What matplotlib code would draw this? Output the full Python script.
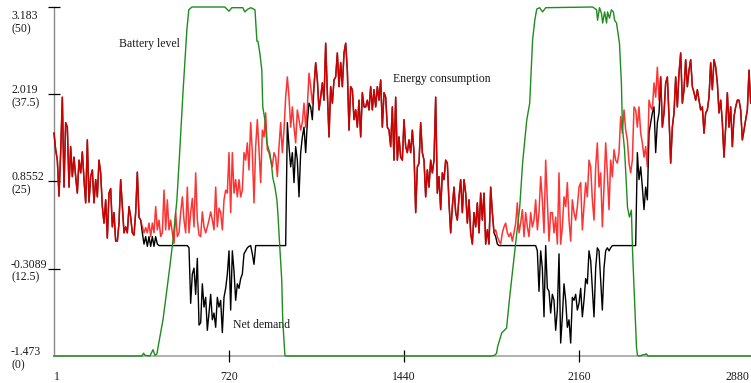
import numpy as np
import matplotlib
matplotlib.use("Agg")
import matplotlib.pyplot as plt
from matplotlib import transforms

# ---------------- data ----------------
STEP_MINUTES = 6.85          # sampling interval of the consumption / net-demand series

consumption = [
    1.50, 1.28, 1.14, 0.66, 1.24, 1.98, 0.78, 1.64, 1.58, 0.78,
    1.32, 0.92, 1.18, 0.92, 0.70, 1.14, 0.97, 1.25, 0.88, 0.57,
    1.41, 0.58, 0.92, 1.01, 0.57, 0.88, 0.65, 1.14, 0.97, 0.52,
    0.30, 0.61, 0.10, 0.70, 0.76, 0.25, 0.44, 0.06, 0.06, 0.30,
    0.88, 0.52, 0.17, 0.25, 0.17, 0.52, 0.38, 0.17, 0.14, 0.44,
    0.98, 0.38, 0.34, 0.25, 0.17, 0.24, 0.17, 0.30, 0.12, 0.30,
    0.17, 0.52, 0.21, 0.34, 0.12, 0.17, 0.74, 0.21, 0.61, 0.21,
    0.34, 0.17, 0.03, 0.44, 0.12, 0.17, 0.44, 0.65, 0.34, 0.17,
    0.78, 0.17, 0.44, 0.63, 0.25, 0.97, 0.34, 0.14,
    # ---
    0.12, 0.45, 0.25, 0.17, 0.25, 0.34, 0.45, 0.34, 0.21, 0.78,
    0.25, 0.50, 0.44, 0.21, 0.61, 0.74, 0.70, 1.24, 0.44, 1.24,
    0.70, 0.88, 0.65, 0.88, 0.65, 0.74, 1.24, 1.14, 1.37, 1.01,
    1.64, 1.24, 0.57, 1.32, 1.68, 1.28, 0.84, 1.54, 1.45, 1.77,
    1.28, 1.24, 1.14, 1.05, 1.24, 1.18, 0.92, 1.32, 1.64, 1.24,
    1.54, 1.98, 2.25, 1.98, 1.58, 1.85, 1.58, 1.37, 1.81, 1.68,
    1.54, 1.64, 1.90, 1.58, 1.85, 2.30, 2.12, 1.90, 2.12, 2.44,
    2.21, 1.81, 1.98, 2.17, 1.94, 2.70, 2.04, 1.45, 2.12, 1.90,
    2.21, 2.25, 2.57, 2.12, 2.44, 2.12, 2.57, 2.70, 2.34, 1.54,
    2.12, 2.08, 1.68, 1.81, 1.58, 1.94, 1.45, 2.04, 1.85, 1.85,
    1.94, 1.81,
    # ---
    2.12, 1.81, 2.08, 1.85, 2.12, 1.94, 2.21, 1.58, 2.04, 1.98,
    1.58, 1.54, 1.32, 1.85, 1.14, 1.98, 1.14, 1.45, 1.18, 1.14,
    1.68, 1.32, 1.24, 1.41, 1.24, 1.54, 1.24, 0.44, 1.05, 1.10,
    1.64, 1.24, 1.14, 0.65, 1.01, 0.78, 1.14, 0.97, 1.14, 1.98,
    0.70, 0.92, 0.48, 0.97, 0.88, 1.14, 1.10, 0.57, 0.17, 0.52,
    0.78, 0.44, 0.34, 0.65, 0.88, 0.44, 0.88, 0.70, 0.30, 0.61,
    0.17, 0.02, 0.44, 0.25, 0.57, 0.17, 0.70, 0.34, 0.70, 0.02,
    0.21, 0.02, 0.78, 0.44, 0.17, 0.21, 0.12, 0.06, 0.02, 0.17,
    0.25, 0.30, 0.17, 0.12, 0.17, 0.06, 0.17, 0.30, 0.57, 0.17,
    0.30, 0.48, 0.12, 0.44, 0.25, 0.12, 0.44, 0.25, 0.34, 0.61,
    0.21, 0.44,
    # ---
    0.92, 0.61, 0.17, 1.14, 0.61, 0.06, 0.44, 0.44, 0.17, 0.38,
    0.02, 0.97, 0.02, 0.25, 0.65, 0.52, 0.84, 0.34, 0.06, 0.61,
    0.44, 0.34, 0.52, 0.78, 0.84, 0.21, 0.52, 0.84, 0.65, 1.14,
    1.05, 0.61, 0.34, 1.05, 1.37, 0.78, 0.97, 0.25, 0.78, 1.37,
    0.97, 0.48, 1.14, 0.92, 1.28, 1.14, 1.10, 1.24, 1.72, 1.50,
    1.81, 1.54, 1.41, 1.10, 0.97, 1.14, 1.85, 1.81, 1.58, 1.85,
    1.50, 1.37, 1.18, 1.32, 1.05, 1.94, 1.85, 1.81, 2.17, 1.98,
    2.38, 1.94, 2.25, 1.58, 1.77, 2.17, 2.25, 1.72, 1.10, 1.58,
    1.77, 2.25, 1.85, 2.30, 2.57, 1.90, 2.08, 2.48, 2.12, 2.34,
    2.48, 2.12, 2.04, 1.94, 2.08, 1.94, 1.81, 1.85, 1.50, 1.77,
    1.81, 1.98, 2.44, 2.08, 2.48, 2.38, 2.17, 1.77, 1.94, 1.64,
    1.18, 1.58, 2.04, 1.58, 1.85, 1.32, 1.72, 1.85, 1.94, 1.94,
    1.81, 1.41, 1.54, 1.68, 1.81, 2.34, 1.90,
]

# net demand differs from consumption only in two windows (sample index, values)
net_window1_start = 53
net_window1 = [
    0.17, 0.02, 0.12, -0.01, 0.12, -0.01, 0.12, -0.01, 0.12, 0.02,
    0.00, 0.00, 0.00, 0.00, 0.00, 0.00, 0.00, 0.00, 0.00, 0.00,
    0.00, 0.00, 0.00, 0.00, 0.00, 0.00, 0.00, 0.00, -0.03,
    -0.77, -0.38, -0.30, -0.65, -0.17, -1.06,
    -1.03, -0.51, -0.82, -0.69, -1.13, -0.90, -0.65, -0.99, -0.90, -1.09,
    -0.69, -0.82, -0.73, -1.16, -0.69, -0.57, -0.38, -0.07, -0.86, -0.07,
    -0.34, -0.73, -0.51, -0.57, -0.44, -0.38, -0.11, -0.07, -0.03, -0.01,
    0.00, -0.11, -0.25,
    0.00, 0.00, 0.00, 0.00, 0.00, 0.00, 0.00, 0.00, 0.00, 0.00,
    0.00, 0.00, 0.00, 0.00, 0.00, 0.00, 0.00, 0.00, 0.00,
    1.64, 1.32, 1.05, 1.24, 0.84, 1.32, 1.14, 0.65, 1.24, 1.45,
    1.58, 1.24, 1.64, 1.90, 1.85, 1.68,
]
net_window2_start = 264
net_window2 = [
    0.17, 0.12, 0.02, 0.00,
    0.00, 0.00, 0.00, 0.00, 0.00, 0.00, 0.00, 0.00, 0.00, 0.00, 0.00,
    0.00, 0.00, 0.00, 0.00, 0.00, 0.00, 0.00, 0.00, 0.00, 0.00, 0.00,
    -0.07, -0.61,
    -0.07, -0.30, -0.95, 0.00, -0.57, -0.61, -0.90, -0.65, -0.73, -1.13,
    -0.86, -0.11, -1.30, -0.95, -0.51, -0.73, -1.09, -0.99, -1.30, -0.69,
    -0.73, -0.65, -0.86, -0.77, -0.57, -0.95, -0.73, -0.44, -0.51, -0.07,
    -0.20, -0.57, -0.95, -0.30, -0.03, -0.07, -0.47, -0.86, -0.30, -0.07,
    -0.03, -0.07, -0.03,
    0.00, 0.00, 0.00, 0.00, 0.00, 0.00, 0.00, 0.00, 0.00, 0.00,
    0.00, 0.00, 0.00, 0.00, 0.00,
    1.24, 0.88, 1.05, 0.78, 0.48, 0.78, 0.61, 1.50, 1.64, 1.77,
    1.85, 1.24, 1.64, 1.77,
]

# battery level (0..50 scale) at irregular minute stamps
battery_minutes = [
    1, 362, 369, 375, 395, 408, 416, 424, 436, 449, 465, 477, 490, 506, 518,
    531, 547, 555, 568, 703, 720, 732, 777, 785, 798, 810, 827, 835, 839,
    847, 855, 859, 868, 876, 888, 896, 900, 909, 917, 921, 929, 937, 941,
    950, 954, 1800, 1812, 1820, 1824, 1841, 1861, 1874, 1886, 1903, 1915,
    1927, 1944, 1956, 1968, 1977, 1985, 1997, 2009, 2022, 2215, 2231, 2235,
    2243, 2251, 2256, 2264, 2272, 2276, 2284, 2292, 2300, 2305, 2313, 2325,
    2333, 2337, 2346, 2354, 2358, 2366, 2374, 2379, 2387, 2395, 2399, 2407,
    2436, 2442, 2864,
]
battery_level = [
    0, 0, 0.4, 0.1, 0, 0.9, 0.1, 0.3, 2.7, 5.2, 9.5, 12.8, 16.6, 22.3, 29.5,
    37.7, 46.7, 49.6, 50, 50, 49.4, 49.9, 49.9, 49.3, 49.7, 49.9, 49.6, 45.1, 45.1,
    43.4, 41.0, 35.7, 33.8, 30.5, 29.1, 27.1, 25.6, 24.2, 22.4, 20.5, 15.6, 10.9, 5.2,
    0.1, 0, 0, 0.1, 0.4, 1.3, 3.3, 4.0, 8.5, 12.3, 17.6, 21.3,
    27.7, 33.8, 36.2, 45.3, 48.1, 49.7, 49.9, 49.3, 49.9, 50, 49.6, 48.1,
    49.9, 49.1, 47.7, 49.3, 47.7, 49.3, 48.4, 49.6, 49.3, 48.1, 47.7, 44.8,
    39.1, 32.8, 29.5, 24.2, 21.3, 19.9, 20.9, 14.8, 8.0, 1.3, 0.1, 0,
    0.3, 0, 0,
]

energy_ticks = [3.183, 2.019, 0.8552, -0.3089, -1.473]
energy_tick_labels = ["3.183", "2.019", "0.8552", "-0.3089", "-1.473"]
battery_tick_labels = ["(50)", "(37.5)", "(25)", "(12.5)", "(0)"]
x_ticks = [1, 720, 1440, 2160, 2880]
x_tick_labels = ["1", "720", "1440", "2160", "2880"]
BATTERY_MAX = 50

# ---------------- derived ----------------
consumption = np.array(consumption)
net_demand = consumption.copy()
net_demand[net_window1_start:net_window1_start + len(net_window1)] = net_window1
net_demand[net_window2_start:net_window2_start + len(net_window2)] = net_window2
minutes = 1 + STEP_MINUTES * np.arange(len(consumption))

y_lo, y_hi = energy_ticks[-1], energy_ticks[0]
battery_energy = y_lo + np.array(battery_level) / BATTERY_MAX * (y_hi - y_lo)

# ---------------- figure ----------------
plt.rcParams['font.family'] = ['Liberation Serif', 'DejaVu Serif']
W, H = 751, 383
fig = plt.figure(figsize=(W / 100, H / 100), dpi=100)
ax = fig.add_axes([54 / W, 27 / H, 700.5 / W, 349 / H])
ax.set_xlim(1, 2880)
ax.set_ylim(y_lo, y_hi)

ax.plot(minutes, net_demand, color='black', lw=1.0, zorder=2, clip_on=False)
ax.plot(minutes, consumption, color='#ff0000', lw=1.1, alpha=0.8, zorder=3, clip_on=False)
ax.plot(battery_minutes, battery_energy, color='#1e8c1e', lw=1.0, zorder=4, clip_on=False)

for s in ['top', 'right']:
    ax.spines[s].set_visible(False)
ax.spines['left'].set_color('#8a8a8a')
ax.spines['left'].set_linewidth(1.0)
ax.spines['bottom'].set_color('#b0b0b0')
ax.spines['bottom'].set_linewidth(1.4)
ax.spines['left'].set_zorder(1)
ax.spines['bottom'].set_zorder(1)

ax.set_yticks(energy_ticks[:-1])
ax.set_yticklabels([])
ax.set_xticks(x_ticks[1:])
ax.set_xticklabels([])
ax.tick_params(axis='both', direction='inout', length=9, width=0.9, color='black')

txt_kw = dict(fontsize=8.5, color='#1a1a1a')
px = 72 / 100  # points per pixel

# y labels (two lines: energy value and battery level)
ytrans = transforms.blended_transform_factory(fig.transFigure, ax.transData)
for i, (v, l1, l2) in enumerate(zip(energy_ticks, energy_tick_labels, battery_tick_labels)):
    shift = -13 if i == 0 else 0
    t1 = transforms.offset_copy(ytrans, fig=fig, x=0, y=(1 + shift) * px, units='points')
    t2 = transforms.offset_copy(ytrans, fig=fig, x=0, y=(-12 + shift) * px, units='points')
    ax.text(11 / W, v, l1, transform=t1, ha='left', va='baseline', **txt_kw)
    ax.text(11 / W, v, l2, transform=t2, ha='left', va='baseline', **txt_kw)

# x labels
xtrans = transforms.blended_transform_factory(ax.transData, fig.transFigure)
for xv, lab in zip(x_ticks, x_tick_labels):
    if xv == x_ticks[-1]:
        ax.text(749.5 / W, 3 / H, lab, transform=fig.transFigure, ha='right', va='baseline', **txt_kw)
    else:
        off = 3 if xv == x_ticks[0] else 0
        tt = transforms.offset_copy(xtrans, fig=fig, x=off * px, y=0, units='points')
        ax.text(xv, 3 / H, lab, transform=tt, ha='center', va='baseline', **txt_kw)

# series labels
ax.text(268, 2.649, "Battery level", ha='left', va='baseline', **txt_kw)
ax.text(1393, 2.182, "Energy consumption", ha='left', va='baseline', **txt_kw)
ax.text(736, -1.099, "Net demand", ha='left', va='baseline', **txt_kw)

fig.savefig("out.png", dpi=100)
